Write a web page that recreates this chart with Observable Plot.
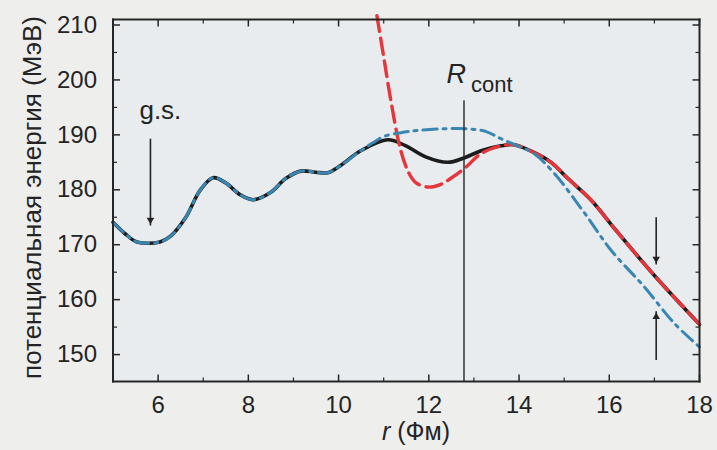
<!DOCTYPE html>
<html><head><meta charset="utf-8">
<script src="https://cdn.jsdelivr.net/npm/d3@7"></script>
<script src="https://cdn.jsdelivr.net/npm/@observablehq/plot@0.6"></script>
<style>
html,body{margin:0;padding:0;background:#eeeeed;}
#chart{width:717px;height:450px;position:relative}
</style></head><body><div id="chart"></div>
<script>
// black solid curve (full potential)
const blackR = [5.0,5.27,5.53,6.04,6.27,6.6,6.93,7.22,7.49,7.82,8.11,8.49,8.82,9.16,9.49,9.76,10.04,10.49,11.09,11.49,11.93,12.42,12.78,13.16,13.6,13.89,14.33,14.71,15.09,15.6,16.11,17.0,18.0];
const blackE = [174.1,172.0,170.5,170.5,171.5,174.8,179.9,182.2,181.3,179.1,178.2,179.5,182.0,183.4,183.2,183.1,184.4,187.1,189.1,188.0,186.0,185.0,185.8,187.1,188.0,188.2,186.8,185.0,182.0,178.1,173.0,164.4,155.5];
// red dashed curve
const redR = [10.85,11.0,11.16,11.38,11.56,11.71,11.98,12.27,12.49,12.82,13.16,13.6,13.89,14.33,14.71,15.09,15.6,16.11,17.0,18.0];
const redE = [211.7,204.2,196.2,187.1,183.0,181.3,180.5,181.0,182.1,184.1,186.6,188.0,188.2,186.8,185.0,182.0,178.1,173.0,164.4,155.5];
// blue dash-dot curve
const blueR = [5.0,5.27,5.53,6.04,6.27,6.6,6.93,7.22,7.49,7.82,8.11,8.49,8.82,9.16,9.49,9.76,10.04,10.49,10.75,11.0,11.38,11.75,12.33,12.86,13.27,13.6,13.97,14.33,14.78,15.44,16.04,16.78,17.44,18.0];
const blueE = [174.1,172.0,170.5,170.5,171.5,174.8,179.9,182.2,181.3,179.1,178.2,179.5,182.0,183.4,183.2,183.1,184.4,187.1,188.5,189.7,190.4,190.8,191.1,191.1,190.6,189.3,188.0,186.6,183.0,175.9,169.0,162.3,155.7,151.4];

// axis domains and ticks
const xDomain = [5, 18];
const yDomain = [145.1, 211];
const xTickLabels = [6,8,10,12,14,16,18];
const xMinorTicks = [7,9,11,13,15,17];
const yTickLabels = [150,160,170,180,190,200,210];
const yMinorTicks = [155,165,175,185,195,205];

// annotations
const rCont = [12.78];
const rContTop = 196.2;
const rContLabel = [{r: 12.78, e: 201.0}];
const gsLabel = [{r: 6.05, e: 194.4, text: "g.s."}];
const arrowsDown = [{r: 5.83, e1: 189.3, e2: 173.5}, {r: 17.04, e1: 175.0, e2: 166.4}];
const arrowsUp = [{r: 17.04, e1: 149.0, e2: 157.9}];
const yLabel = "потенциальная энергия (МэВ)";
const xLabelVar = "r";
const xLabelUnit = "(Фм)";

const toPts = (rs, es) => rs.map((r, i) => ({r, e: es[i]}));
const black = toPts(blackR, blackE);
const red = toPts(redR, redE);
const blue = toPts(blueR, blueE);

// frame edges built from the domains
const [x0, x1] = xDomain, [y0, y1] = yDomain;
const frameSegs = [
  {x1: x0, y1: y0, x2: x1, y2: y0},
  {x1: x0, y1: y1, x2: x1, y2: y1},
  {x1: x0, y1: y0, x2: x0, y2: y1},
  {x1: x1, y1: y0, x2: x1, y2: y1}
];
// tick anchor points on the four edges
const bottomMajor = xTickLabels.map(x => ({x, y: y0}));
const bottomMinor = xMinorTicks.map(x => ({x, y: y0}));
const topMajor = xTickLabels.map(x => ({x, y: y1}));
const topMinor = xMinorTicks.map(x => ({x, y: y1}));
const leftMajor = yTickLabels.map(y => ({x: x0, y}));
const leftMinor = yMinorTicks.map(y => ({x: x0, y}));
const rightMajor = yTickLabels.map(y => ({x: x1, y}));
const rightMinor = yMinorTicks.map(y => ({x: x1, y}));

// inward tick glyphs
const tickGlyph = (dx, dy) => ({draw(ctx) { ctx.moveTo(0, 0); ctx.lineTo(dx, dy); }});
const W = 717, H = 450, mL = 112.5, mR = 18, mT = 19, mB = 69;
const ink = "#242424";
const tickMark = (data, dx, dy, w) => Plot.dot(data, {x: "x", y: "y", symbol: tickGlyph(dx, dy), fill: "none", stroke: "#262626", strokeWidth: w});

const plot = Plot.plot({
  width: W, height: H,
  marginLeft: mL, marginRight: mR, marginTop: mT, marginBottom: mB,
  x: {domain: xDomain},
  y: {domain: yDomain},
  style: {background: "transparent", fontFamily: "Liberation Sans", fontSize: "24px", color: ink},
  marks: [
    Plot.frame({fill: "#e8ecee"}),
    // curves
    Plot.line(black, {x: "r", y: "e", stroke: "#1c1c1c", strokeWidth: 3.6, curve: "catmull-rom"}),
    Plot.line(red, {x: "r", y: "e", stroke: "#e6353b", strokeWidth: 3.4, strokeDasharray: "16,7", curve: "catmull-rom"}),
    Plot.line(blue, {x: "r", y: "e", stroke: "#3a86b2", strokeWidth: 3.0, strokeDasharray: "14,6,3,6", curve: "catmull-rom"}),
    // frame edges
    Plot.link(frameSegs, {x1: "x1", y1: "y1", x2: "x2", y2: "y2", stroke: "#262626", strokeWidth: 2, strokeLinecap: "square"}),
    // inward ticks
    tickMark(bottomMajor, 0, -7, 1.5), tickMark(bottomMinor, 0, -4, 1.2),
    tickMark(topMajor, 0, 7, 1.5), tickMark(topMinor, 0, 4, 1.2),
    tickMark(leftMajor, 7, 0, 1.5), tickMark(leftMinor, 4, 0, 1.2),
    tickMark(rightMajor, -7, 0, 1.5), tickMark(rightMinor, -4, 0, 1.2),
    // R_cont line and label
    Plot.ruleX(rCont, {x: d => d, y1: rContTop, y2: y0, stroke: ink, strokeWidth: 1.4}),
    Plot.text(rContLabel, {x: "r", y: "e", text: () => "R", fontStyle: "italic", fontSize: 27, textAnchor: "end", dx: 2, fill: ink}),
    Plot.text(rContLabel, {x: "r", y: "e", text: () => "cont", fontSize: 22, textAnchor: "start", dx: 7, dy: 11, fill: ink}),
    // g.s.
    Plot.text(gsLabel, {x: "r", y: "e", text: "text", fontSize: 26, fill: ink}),
    // arrows
    Plot.link(arrowsDown, {x1: "r", x2: "r", y1: "e1", y2: "e2", stroke: ink, strokeWidth: 1.6}),
    Plot.link(arrowsUp, {x1: "r", x2: "r", y1: "e1", y2: "e2", stroke: ink, strokeWidth: 1.6}),
    Plot.dot(arrowsDown, {x: "r", y: "e2", symbol: "triangle2", r: 3.6, rotate: 180, dy: -5.6, fill: ink, stroke: null}),
    Plot.dot(arrowsUp, {x: "r", y: "e2", symbol: "triangle2", r: 3.6, dy: 5.6, fill: ink, stroke: null}),
    // tick labels
    Plot.axisX(xTickLabels, {tickSize: 0, tickPadding: 14, label: null, fontSize: 24, fill: ink}),
    Plot.axisY(yTickLabels, {tickSize: 0, tickPadding: 16, label: null, fontSize: 24, fill: ink}),
    // axis titles
    Plot.text([yLabel], {frameAnchor: "left", text: d => d, rotate: -90, textAnchor: "middle", dx: -80, dy: -3, fontSize: 26, fill: ink}),
    Plot.text([xLabelVar], {frameAnchor: "bottom", text: d => d, fontStyle: "italic", fontSize: 25, dx: -20, dy: 58, fill: ink}),
    Plot.text([xLabelUnit], {frameAnchor: "bottom", text: d => d, textAnchor: "start", fontSize: 25, dx: -9, dy: 58, fill: ink})
  ]
});
document.getElementById("chart").append(plot);
</script></body></html>
